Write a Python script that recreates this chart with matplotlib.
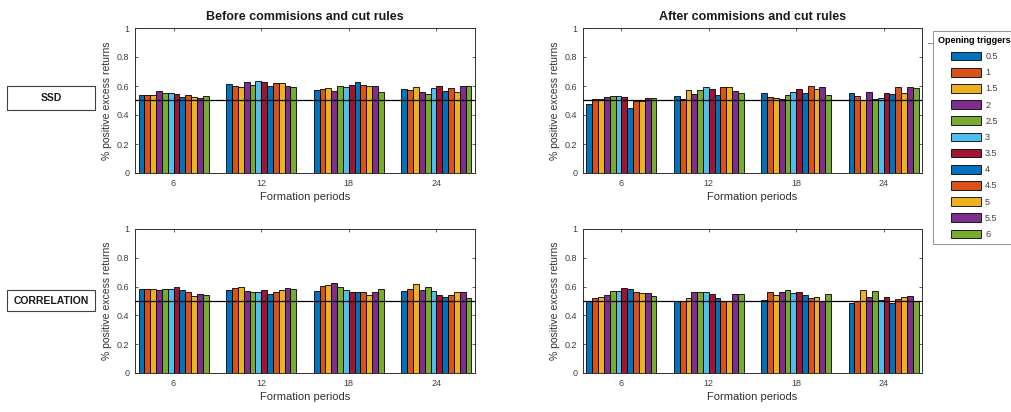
import numpy as np
import matplotlib
matplotlib.use('Agg')
import matplotlib.pyplot as plt
from matplotlib.patches import Rectangle, Patch
from matplotlib.lines import Line2D

plt.rcParams['font.family'] = ['Liberation Sans', 'DejaVu Sans']

periods = ['6', '12', '18', '24']
triggers = ['0.5', '1', '1.5', '2', '2.5', '3', '3.5', '4', '4.5', '5', '5.5', '6']

# rows = formation periods, columns = opening triggers
ssd_before = [
    [0.54, 0.54, 0.54, 0.565, 0.555, 0.555, 0.548, 0.523, 0.535, 0.527, 0.514, 0.53],
    [0.615, 0.60, 0.59, 0.625, 0.61, 0.633, 0.625, 0.60, 0.618, 0.622, 0.60, 0.59],
    [0.57, 0.576, 0.587, 0.565, 0.60, 0.59, 0.61, 0.626, 0.61, 0.60, 0.60, 0.56],
    [0.576, 0.573, 0.59, 0.56, 0.545, 0.587, 0.60, 0.565, 0.587, 0.56, 0.60, 0.60],
]
ssd_after = [
    [0.478, 0.51, 0.51, 0.527, 0.53, 0.53, 0.522, 0.45, 0.497, 0.497, 0.52, 0.52],
    [0.53, 0.51, 0.57, 0.545, 0.57, 0.59, 0.578, 0.54, 0.59, 0.59, 0.565, 0.555],
    [0.55, 0.527, 0.515, 0.51, 0.535, 0.56, 0.58, 0.555, 0.60, 0.58, 0.59, 0.535],
    [0.55, 0.53, 0.50, 0.56, 0.51, 0.52, 0.55, 0.545, 0.59, 0.55, 0.59, 0.585],
]
corr_before = [
    [0.58, 0.58, 0.58, 0.574, 0.583, 0.583, 0.60, 0.578, 0.562, 0.537, 0.552, 0.543],
    [0.575, 0.59, 0.60, 0.57, 0.565, 0.565, 0.575, 0.55, 0.56, 0.575, 0.59, 0.58],
    [0.57, 0.605, 0.61, 0.625, 0.60, 0.575, 0.56, 0.565, 0.565, 0.54, 0.56, 0.58],
    [0.57, 0.58, 0.615, 0.575, 0.595, 0.57, 0.545, 0.53, 0.545, 0.56, 0.565, 0.52],
]
corr_after = [
    [0.50, 0.52, 0.53, 0.543, 0.566, 0.566, 0.59, 0.582, 0.56, 0.555, 0.555, 0.536],
    [0.50, 0.497, 0.52, 0.56, 0.56, 0.56, 0.55, 0.52, 0.50, 0.50, 0.55, 0.548],
    [0.508, 0.56, 0.543, 0.56, 0.578, 0.555, 0.56, 0.543, 0.52, 0.527, 0.503, 0.55],
    [0.485, 0.503, 0.578, 0.53, 0.566, 0.508, 0.53, 0.485, 0.513, 0.53, 0.536, 0.50],
]

# matlab default colour order, repeated
base = ['#0072BD', '#D95319', '#EDB120', '#7E2F8E', '#77AC30', '#4DBEEE', '#A2142F']
colors = [base[i % 7] for i in range(len(triggers))]

W, H = 1011, 412
fig = plt.figure(figsize=(W / 100, H / 100), dpi=100)


def fx(px):
    return px / W


def fy(py):
    return 1 - py / H


def draw_panel(ax, data, title=None):
    data = np.array(data)
    n = data.shape[1]
    x = np.arange(1, len(periods) + 1)
    bw = 0.8 / n
    for j in range(n):
        ax.bar(x - 0.4 + bw * (j + 0.5), data[:, j], width=bw, color=colors[j],
               edgecolor='black', linewidth=0.6, zorder=2)
    ax.axhline(0.5, color='black', linewidth=0.9, zorder=3)
    ax.set_xlim(0.56, 4.44)
    ax.set_ylim(0, 1)
    ax.set_xticks(x)
    ax.set_xticklabels(periods)
    ax.set_yticks([0, 0.2, 0.4, 0.6, 0.8, 1])
    ax.set_yticklabels(['0', '0.2', '0.4', '0.6', '0.8', '1'])
    ax.tick_params(direction='in', length=2.5, width=0.6, labelsize=6.5,
                   colors='#404040', top=True, right=True, pad=4)
    for s in ax.spines.values():
        s.set_color('#303030')
        s.set_linewidth(0.7)
    ax.set_xlabel('Formation periods', fontsize=8, color='#303030', labelpad=3)
    ax.set_ylabel('% positive excess returns', fontsize=7.5, color='#303030')
    ax.yaxis.set_label_coords(-0.068, 0.5)
    if title:
        ax.set_title(title, fontsize=9, fontweight='bold', color='#1a1a1a', pad=6)


lefts = [135, 583]
widths = [340, 339]
tops = [28, 229]
heights = [145, 144]

panels = [
    (0, 0, ssd_before, 'Before commisions and cut rules'),
    (0, 1, ssd_after, 'After commisions and cut rules'),
    (1, 0, corr_before, None),
    (1, 1, corr_after, None),
]
for r, c, d, t in panels:
    ax = fig.add_axes([fx(lefts[c]), fy(tops[r] + heights[r]), fx(widths[c]), heights[r] / H])
    draw_panel(ax, d, t)

# row labels in boxes
for label, y0, y1 in [('SSD', 86, 110), ('CORRELATION', 290, 311)]:
    fig.patches.append(Rectangle((fx(7), fy(y1)), fx(88), (y1 - y0) / H,
                                 transform=fig.transFigure, facecolor='white',
                                 edgecolor='#404040', linewidth=0.8))
    fig.text(fx(51), fy((y0 + y1) / 2), label, ha='center', va='center',
             fontsize=7.5, fontweight='bold', color='#1a1a1a')

handles = [Patch(facecolor=colors[j], edgecolor='black', linewidth=0.6) for j in range(len(triggers))]
leg = fig.legend(handles, triggers, loc='upper left', bbox_to_anchor=(fx(928), fy(26)),
                 title='Opening triggers', fontsize=6.5, title_fontsize=6.5,
                 handlelength=3.3, handleheight=1.1, labelspacing=0.75,
                 handletextpad=0.5, borderpad=0.6, fancybox=False,
                 edgecolor='#909090', framealpha=1)
leg.get_title().set_fontweight('bold')
leg.get_frame().set_linewidth(0.7)
for t in leg.get_texts():
    t.set_color('#404040')
fig.add_artist(Line2D([fx(928), fx(1011)], [fy(43), fy(43)], transform=fig.transFigure,
                      color='#909090', linewidth=0.7))

fig.savefig('out.png', dpi=100)
